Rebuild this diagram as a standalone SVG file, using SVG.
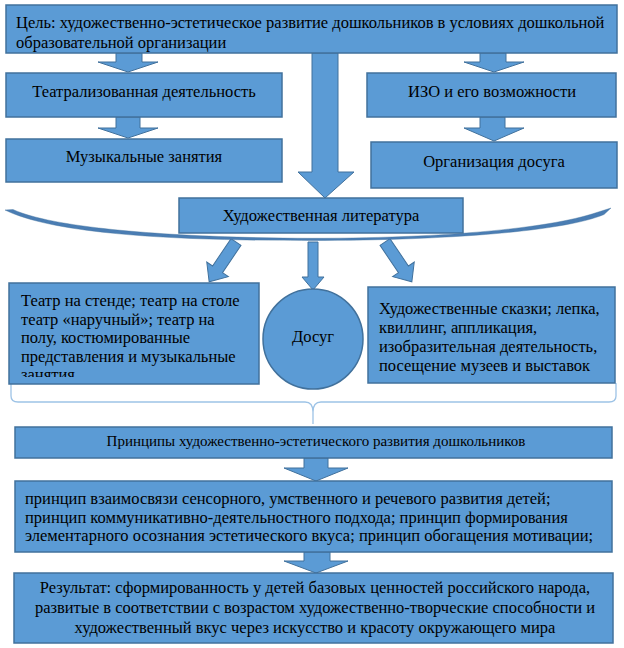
<svg xmlns="http://www.w3.org/2000/svg" width="624" height="648" viewBox="0 0 624 648">
<style>
.box{fill:#5b9bd5;stroke:#41719c;stroke-width:1.5}
.arr{fill:#5b9bd5;stroke:#41719c;stroke-width:1}
.t{font-family:"Liberation Serif","Times New Roman",serif;font-size:16.5px;fill:#000}
.c{text-anchor:middle}
.s{font-size:15px}
.brace{fill:none;stroke:#9dc3e6;stroke-width:1.3}
</style>
<defs>
<clipPath id="clipL"><rect x="9" y="283" width="250" height="94"/></clipPath>
</defs>
<g id="connectors">
<polygon class="arr" points="116,53 142,53 142,62 158,62 128,72 98,62 116,62"/>
<polygon class="arr" points="480,53 506,53 506,62 524,62 494,72 464,62 480,62"/>
<polygon class="arr" points="312,53 338,53 338,172 354,172 325,198 298,172 312,172"/>
<polygon class="arr" points="116,117 140,117 140,128 158,128 128,138 98,128 116,128"/>
<polygon class="arr" points="480,117 505,117 505,128 524,128 494,141 464,128 480,128"/>
<polygon class="arr" transform="translate(236,242) rotate(34)" points="-6,0 6,0 6,33 13,33 0,48 -13,33 -6,33"/>
<polygon class="arr" points="308,242 318,242 318,277 324,277 313,290 302,277 308,277"/>
<polygon class="arr" transform="translate(385,242) rotate(-34)" points="-6,0 6,0 6,33 13,33 0,48 -13,33 -6,33"/>
<polygon class="arr" points="304,458 328,458 328,468 348,468 316,481 284,468 304,468"/>
<polygon class="arr" points="304,552 330,552 330,561 348,561 316,573 284,561 304,561"/>
<path d="M5,210 L13,209.5 C60,231 200,238 312,238.3 C430,238.3 540,230 592,214 L611,208 L604,214.5 C560,233 430,240.5 312,240.5 C200,240.5 60,237 5,210 Z" fill="#4a7db3" stroke="#41719c" stroke-width="0.4"/>
<path class="brace" d="M11,383 V396 Q11,402 18,402 H305 Q313,402 313,412 V424 M313,412 Q313,402 321,402 H609 Q616,402 616,396 V383"/>
</g>
<g id="goal">
<rect class="box" x="6" y="5" width="611" height="48"/>
<text class="t" x="16" y="28">Цель: художественно-эстетическое развитие дошкольников в условиях дошкольной</text>
<text class="t" x="16" y="48">образовательной организации</text>
</g>
<g id="theatre">
<rect class="box" x="6" y="73" width="276" height="44"/>
<text class="t c" x="144" y="97">Театрализованная деятельность</text>
</g>
<g id="izo">
<rect class="box" x="367" y="73" width="249" height="44"/>
<text class="t c" x="492" y="97">ИЗО и его возможности</text>
</g>
<g id="music">
<rect class="box" x="6" y="139" width="276" height="43"/>
<text class="t c" x="144" y="162">Музыкальные занятия</text>
</g>
<g id="leisure-org">
<rect class="box" x="371" y="142" width="246" height="46"/>
<text class="t c" x="494" y="167">Организация досуга</text>
</g>
<g id="literature">
<rect class="box" x="179" y="198" width="284" height="35"/>
<text class="t c" x="321" y="221">Художественная литература</text>
</g>
<g id="theatre-types">
<rect class="box" x="9" y="283" width="250" height="101"/>
<g clip-path="url(#clipL)">
<text class="t" x="21" y="306">Театр на стенде; театр на столе</text>
<text class="t" x="21" y="325">театр «наручный»; театр на</text>
<text class="t" x="21" y="343">полу, костюмированные</text>
<text class="t" x="21" y="362">представления и музыкальные</text>
<text class="t" x="21" y="380">занятия</text>
</g>
</g>
<g id="dosug">
<circle class="box" cx="313" cy="339" r="50"/>
<text class="t c" x="313" y="342">Досуг</text>
</g>
<g id="art">
<rect class="box" x="368" y="287" width="247" height="96"/>
<text class="t" x="379" y="314">Художественные сказки; лепка,</text>
<text class="t" x="379" y="333">квиллинг, аппликация,</text>
<text class="t" x="379" y="352">изобразительная деятельность,</text>
<text class="t" x="379" y="371">посещение музеев и выставок</text>
</g>
<g id="principles-title">
<rect class="box" x="15" y="427" width="597" height="31"/>
<text class="t c s" x="316" y="446">Принципы художественно-эстетического  развития дошкольников</text>
</g>
<g id="principles">
<rect class="box" x="15" y="481" width="597" height="71"/>
<text class="t" x="25" y="504">принцип взаимосвязи сенсорного, умственного и речевого развития детей;</text>
<text class="t" x="25" y="522.5">принцип коммуникативно-деятельностного подхода; принцип формирования</text>
<text class="t" x="25" y="541">элементарного осознания эстетического вкуса; принцип обогащения мотивации;</text>
</g>
<g id="result">
<rect class="box" x="14" y="573" width="599" height="70"/>
<text class="t c" x="315" y="593">Результат: сформированность у детей базовых ценностей российского народа,</text>
<text class="t c" x="315" y="613">развитые в соответствии с возрастом художественно-творческие способности и</text>
<text class="t c" x="315" y="633">художественный вкус через искусство и красоту окружающего мира</text>
</g>
</svg>
